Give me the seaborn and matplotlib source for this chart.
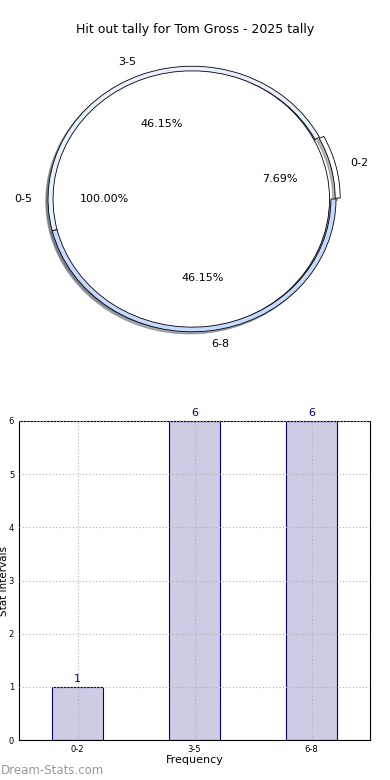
import matplotlib
matplotlib.use('agg')
import matplotlib.pyplot as plt
import seaborn as sns
import pandas as pd

sns.set_style('white')
plt.rcParams['font.family'] = ['DejaVu Sans']
plt.rcParams['text.color'] = 'black'
plt.rcParams['axes.labelcolor'] = 'black'
plt.rcParams['xtick.color'] = 'black'
plt.rcParams['ytick.color'] = 'black'

# data
title = 'Hit out tally for Tom Gross - 2025 tally'
outer_labels = ['0-2', '3-5', '6-8']
outer_counts = [1, 6, 6]
outer_colors = ['#ffffff', '#e8efff', '#c6d9ff']
inner_labels = ['0-5']
inner_counts = [13]
bar_labels = ['0-2', '3-5', '6-8']
bar_values = [1, 6, 6]

fig = plt.figure(figsize=(3.9, 7.8), dpi=100)

# --- pie (top)
shade = dict(ox=-0.012, oy=-0.012, shade=0.6)
ax_pie = fig.add_axes([12/390, 1-365/780, 360/390, 332/780])
ax_pie.pie(inner_counts, labels=inner_labels, autopct='%1.2f%%', radius=0.975,
           startangle=0, shadow=shade, colors=['#ffffff'], explode=[0.02],
           labeldistance=1.12, pctdistance=0.6,
           wedgeprops=dict(edgecolor='black', linewidth=0.6),
           textprops=dict(fontsize=8))
ax_pie.pie(outer_counts, labels=outer_labels, autopct='%1.2f%%', radius=1.0,
           startangle=0, shadow=shade, colors=outer_colors, explode=[0.03, 0, 0],
           labeldistance=1.1, pctdistance=0.6,
           wedgeprops=dict(width=0.035, edgecolor='black', linewidth=0.6),
           textprops=dict(fontsize=8))
ax_pie.set_aspect('auto')
ax_pie.set_xlim(-1.25, 1.25)
ax_pie.set_ylim(-1.25, 1.25)
fig.text(0.5, 1-30/780, title, ha='center', va='center', fontsize=9)

# --- bars (bottom)
ax = fig.add_axes([19/390, 1-740/780, 351/390, 319/780])
df = pd.DataFrame({'interval': bar_labels, 'count': bar_values})
sns.barplot(data=df, x='interval', y='count', ax=ax, width=0.44,
            color='#cccce4', edgecolor='#000080', linewidth=0.8,
            saturation=1)
for p, v in zip(ax.patches, bar_values):
    ax.text(p.get_x() + p.get_width()/2, v + 0.06, str(v), ha='center', va='bottom',
            color='#000080', fontsize=8)
ax.set_xlim(-0.5, 2.5)
ax.set_ylim(0, 6)
ax.set_yticks(range(0, 7))
ax.grid(True, linestyle=(0, (1, 2)), color='#b0b0b0', linewidth=0.8)
ax.set_axisbelow(False)
for p in ax.patches:
    p.set_zorder(1)
ax.tick_params(labelsize=6, length=2, pad=1.5)
ax.set_xlabel('Frequency', fontsize=8, labelpad=1)
ax.set_ylabel('Stat Intervals', fontsize=7.5)
ax.yaxis.set_label_coords(-10/351, 0.5)
for s in ax.spines.values():
    s.set_visible(True)
    s.set_color('black')
    s.set_linewidth(0.8)

fig.text(1/390, 1-771/780, 'Dream-Stats.com', ha='left', va='center',
         color='#999999', fontsize=8.5)

fig.savefig('out.png', dpi=100)
